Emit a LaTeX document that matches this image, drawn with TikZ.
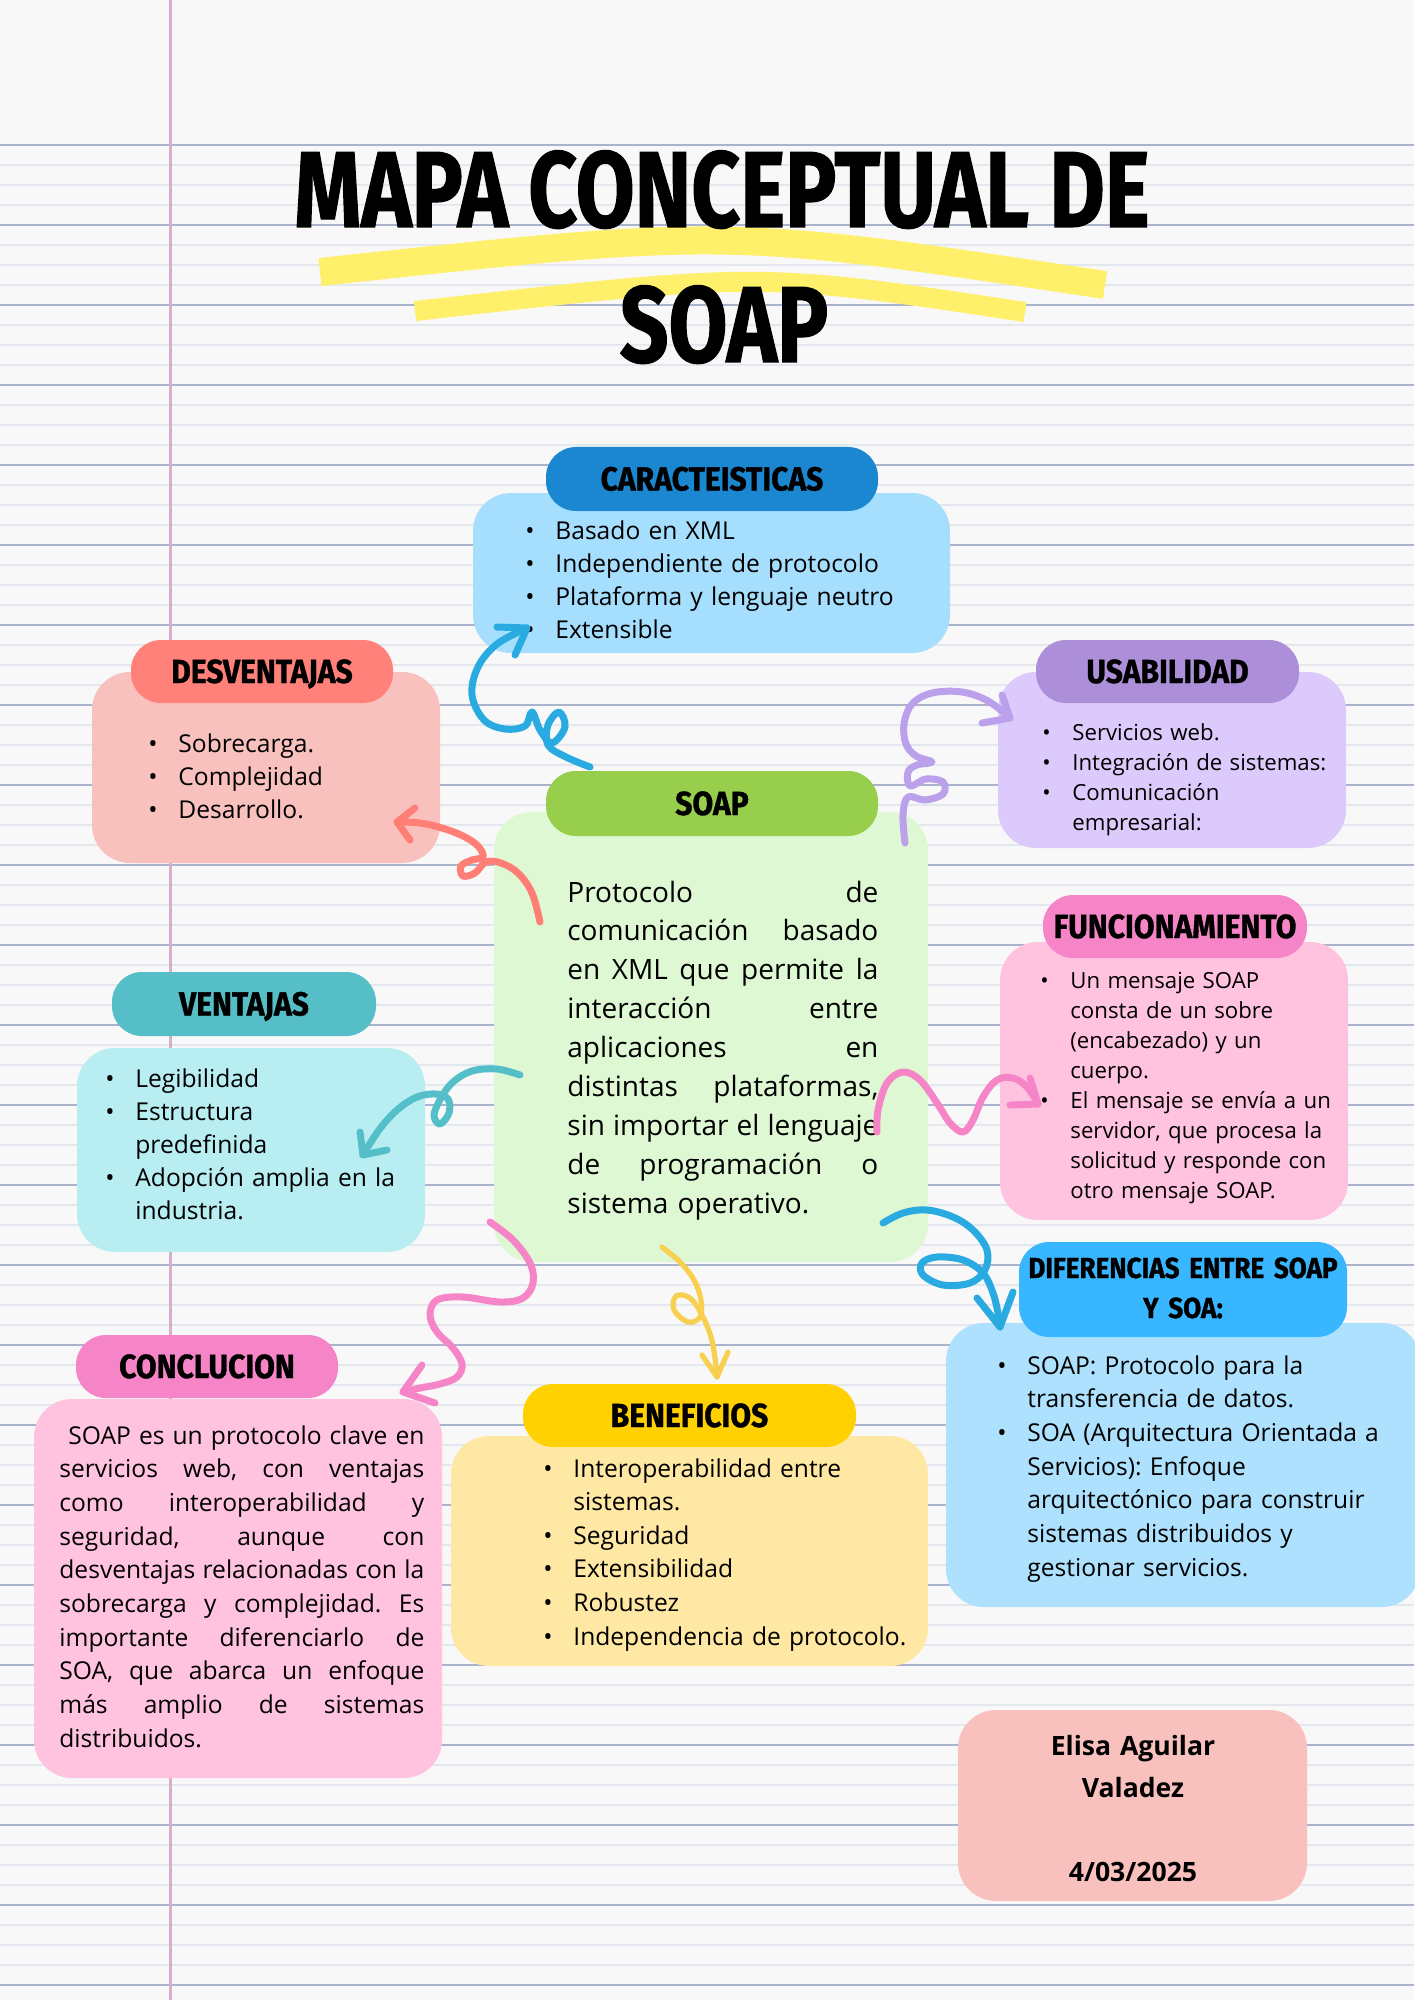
\documentclass[tikz,border=0pt]{standalone}
\usepackage{fontspec}
\setmainfont{Open Sans}
\newfontfamily\headfont[FakeStretch=0.9,FakeBold=1]{Fira Sans}
\newfontfamily\titlefont[FakeStretch=0.79,FakeBold=1]{Fira Sans}
\usetikzlibrary{fit}
\frenchspacing

\definecolor{paper}{HTML}{F9F8F9}
\definecolor{rulethin}{HTML}{E3E8EF}
\definecolor{rulethick}{HTML}{A9B4CC}
\definecolor{marginc}{HTML}{D8ADD0}
\definecolor{hilite}{HTML}{FFF06B}
\definecolor{carheadc}{HTML}{1B87D0}
\definecolor{carbodyc}{HTML}{A6DEFD}
\definecolor{desheadc}{HTML}{FF8179}
\definecolor{desbodyc}{HTML}{F9C1BE}
\definecolor{usaheadc}{HTML}{AC8FD8}
\definecolor{usabodyc}{HTML}{DDCAFC}
\definecolor{soapheadc}{HTML}{97CF4D}
\definecolor{soapbodyc}{HTML}{DFF8D4}
\definecolor{pinkheadc}{HTML}{F685C8}
\definecolor{pinkbodyc}{HTML}{FFC3DF}
\definecolor{venheadc}{HTML}{56BEC7}
\definecolor{venbodyc}{HTML}{B8EEF2}
\definecolor{benheadc}{HTML}{FFD103}
\definecolor{benbodyc}{HTML}{FFE8A4}
\definecolor{difheadc}{HTML}{38B6FF}
\definecolor{difbodyc}{HTML}{AEE1FD}
\definecolor{authorc}{HTML}{F8C1BE}
\definecolor{bluecurl}{HTML}{29ABE2}
\definecolor{salmoncurl}{HTML}{FF7F77}
\definecolor{purplecurl}{HTML}{BBA0EB}
\definecolor{tealcurl}{HTML}{55BFC9}
\definecolor{pinkcurl}{HTML}{F685C8}
\definecolor{yellowcurl}{HTML}{F8CF4F}

\newcommand\bul{\makebox[15pt][l]{\textbullet}}
\newcommand\cnt{\hspace*{15pt}}
\newcommand\jl[1]{\makebox[\hsize][s]{\spaceskip=.26em plus 1fil minus .08em\relax #1}}

\tikzset{
  box/.style={rounded corners=19pt, inner sep=0pt},
  headbox/.style={rounded corners=15pt, inner sep=0pt},
  headtxt/.style={anchor=base, inner sep=0pt,
    font=\headfont\bfseries\fontsize{16.7}{20}\selectfont},
  titletxt/.style={inner sep=0pt, font=\titlefont\bfseries\fontsize{54}{60}\selectfont},
  itemtxt/.style={anchor=base west, align=left, inner sep=0pt, text width=220pt,
    font=\fontsize{12.3}{16.5}\selectfont},
  smalltxt/.style={itemtxt, font=\fontsize{11.1}{15}\selectfont},
  curl/.style={line width=3.5pt, line cap=round, line join=round},
}

\begin{document}
\begin{tikzpicture}[x=0.5pt,y=0.5pt]
\useasboundingbox (0,0) rectangle (1414,-2000);
\fill[paper] (0,0) rectangle (1414,-2000);

% notebook paper
\foreach \y in {145,165,...,1985}
  \draw[rulethin, line width=0.75pt] (0,-\y) -- (1414,-\y);
\foreach \y in {145,225,...,1985}
  \draw[rulethick, line width=1pt] (0,-\y) -- (1414,-\y);
\draw[marginc, line width=1.5pt] (170,0) -- (170,-2000);

% title
\draw[hilite, line width=14pt] (320,-272) .. controls (727,-228) .. (1105,-285);
\draw[hilite, line width=10pt] (415,-311) .. controls (760,-272) .. (1025,-312);
\node[titletxt, anchor=base] (title1) at (722,-227) {MAPA CONCEPTUAL DE};
\node[titletxt, anchor=base] (title2) at (724,-362) {SOAP};

% caracteristicas
\node[box, fill=carbodyc, fit={(473,-493) (950,-653)}] (carbody) {};
\node[headbox, fill=carheadc, fit={(546,-447) (878,-511)}] (carhead) {};
\node[headtxt] (cartitle) at (712,-490.5) {CARACTEISTICAS};
\node[itemtxt] (cartxt) at (525,-539) {\bul Basado en XML\\ \bul Independiente de protocolo\\
  \bul Plataforma y lenguaje neutro\\ \bul Extensible};

% desventajas
\node[box, fill=desbodyc, fit={(92,-672) (440,-863)}] (desbody) {};
\node[headbox, fill=desheadc, fit={(131,-640) (393,-703)}] (deshead) {};
\node[headtxt] (destitle) at (262,-683) {DESVENTAJAS};
\node[itemtxt] (destxt) at (148,-752) {\bul Sobrecarga.\\ \bul Complejidad\\ \bul Desarrollo.};

% usabilidad
\node[box, fill=usabodyc, fit={(998,-672) (1346,-848)}] (usabody) {};
\node[headbox, fill=usaheadc, fit={(1036,-640) (1299,-703)}] (usahead) {};
\node[headtxt] (usatitle) at (1167.5,-683) {USABILIDAD};
\node[smalltxt] (usatxt) at (1042,-740) {\bul Servicios web.\\ \bul Integración de sistemas:\\
  \bul Comunicación\\ \cnt empresarial:};

% soap
\node[box, fill=soapbodyc, fit={(494,-812) (928,-1262)}] (soapbody) {};
\node[headbox, fill=soapheadc, fit={(546,-771) (878,-836)}] (soaphead) {};
\node[headtxt] (soaptitle) at (712,-815) {SOAP};
\node[anchor=base west, inner sep=0pt, text width=155.5pt, align=left,
  font=\fontsize{14}{19.45}\selectfont] (soaptxt) at (567,-902) {%
  \jl{Protocolo de}\\ \jl{comunicación basado}\\ \jl{en XML que permite la}\\
  \jl{interacción entre}\\ \jl{aplicaciones en}\\ \jl{distintas plataformas,}\\
  \jl{sin importar el lenguaje}\\ \jl{de programación o}\\ sistema operativo.};

% funcionamiento
\node[box, fill=pinkbodyc, fit={(1000,-942) (1348,-1220)}] (funbody) {};
\node[headbox, fill=pinkheadc, fit={(1043,-895) (1307,-958)}] (funhead) {};
\node[headtxt] (funtitle) at (1175,-938) {FUNCIONAMIENTO};
\node[smalltxt] (funtxt) at (1040,-988) {\bul Un mensaje SOAP\\ \cnt consta de un sobre\\
  \cnt (encabezado) y un\\ \cnt cuerpo.\\ \bul El mensaje se envía a un\\
  \cnt servidor, que procesa la\\ \cnt solicitud y responde con\\ \cnt otro mensaje SOAP.};

% ventajas
\node[box, fill=venbodyc, fit={(77,-1048) (425,-1252)}] (venbody) {};
\node[headbox, fill=venheadc, fit={(112,-972) (376,-1036)}] (venhead) {};
\node[headtxt] (ventitle) at (244,-1015.5) {VENTAJAS};
\node[itemtxt] (ventxt) at (105,-1087) {\bul Legibilidad\\ \bul Estructura\\ \cnt predefinida\\
  \bul Adopción amplia en la\\ \cnt industria.};

% diferencias
\node[box, fill=difbodyc, fit={(946,-1323) (1420,-1607)}] (difbody) {};
\node[headbox, fill=difheadc, fit={(1019,-1242) (1347,-1337)}] (difhead) {};
\node[headtxt, text width=170pt, align=center,
  font=\headfont\bfseries\fontsize{14.5}{20}\selectfont] (diftitle) at (1183,-1278)
  {DIFERENCIAS ENTRE SOAP\\ Y SOA:};
\node[itemtxt, font=\fontsize{12.3}{16.85}\selectfont] (diftxt) at (997,-1374) {%
  \bul SOAP: Protocolo para la\\ \cnt transferencia de datos.\\
  \bul SOA (Arquitectura Orientada a\\ \cnt Servicios): Enfoque\\
  \cnt arquitectónico para construir\\ \cnt sistemas distribuidos y\\ \cnt gestionar servicios.};

% conclucion
\node[box, fill=pinkbodyc, fit={(34,-1399) (442,-1778)}] (conbody) {};
\node[headbox, fill=pinkheadc, fit={(76,-1335) (338,-1398)}] (conhead) {};
\node[headtxt] (contitle) at (207,-1378) {CONCLUCION};
\node[anchor=base west, inner sep=0pt, text width=182.5pt, align=left,
  font=\fontsize{12.3}{16.85}\selectfont] (context) at (59,-1444) {%
  \jl{\hspace*{4.5pt}SOAP es un protocolo clave en}\\ \jl{servicios web, con ventajas}\\
  \jl{como interoperabilidad y}\\ \jl{seguridad, aunque con}\\
  \jl{desventajas relacionadas con la}\\ \jl{sobrecarga y complejidad. Es}\\
  \jl{importante diferenciarlo de}\\ \jl{SOA, que abarca un enfoque}\\
  \jl{más amplio de sistemas}\\ distribuidos.};

% beneficios
\node[box, fill=benbodyc, fit={(451,-1436) (928,-1666)}] (benbody) {};
\node[headbox, fill=benheadc, fit={(523,-1384) (856,-1447)}] (benhead) {};
\node[headtxt] (bentitle) at (689.5,-1427) {BENEFICIOS};
\node[itemtxt, font=\fontsize{12.3}{16.8}\selectfont] (bentxt) at (543,-1477) {%
  \bul Interoperabilidad entre\\ \cnt sistemas.\\ \bul Seguridad\\ \bul Extensibilidad\\
  \bul Robustez\\ \bul Independencia de protocolo.};

% autor
\node[box, fill=authorc, fit={(958,-1710) (1307,-1901)}] (author) {};
\node[anchor=base, align=center, inner sep=0pt, text width=170pt,
  font=\bfseries\fontsize{13.3}{21}\selectfont] (authortxt) at (1133,-1755)
  {Elisa Aguilar\\ Valadez\\[21pt] 4/03/2025};

% curly arrows
\coordinate (cars) at (590,-767);  \coordinate (cart) at (527,-628);
\draw[curl, bluecurl] plot[smooth, tension=0.6] coordinates {(cars) (566,-757) (548,-745)
  (548,-725) (559,-712) (565,-727) (552,-743) (540,-730) (532,-712) (525,-726) (505,-729)
  (484,-720) (472,-695) (478,-667) (497,-644) (cart)};
\draw[curl, bluecurl] (497,-627) -- (cart) -- (515,-655);

\coordinate (dess) at (540,-922);  \coordinate (dest) at (397,-822);
\draw[curl, salmoncurl] plot[smooth, tension=0.6] coordinates {(dess) (532,-893) (518,-873)
  (501,-863) (486,-862) (475,-873) (463,-876) (461,-866) (472,-860) (483,-857) (478,-846)
  (463,-836) (442,-828) (420,-823) (dest)};
\draw[curl, salmoncurl] (415,-808) -- (dest) -- (410,-840);

\coordinate (usas) at (905,-843);  \coordinate (usat) at (1010,-718);
\draw[curl, purplecurl] plot[smooth, tension=0.6] coordinates {(usas) (903,-815) (908,-797)
  (925,-800) (943,-794) (943,-782) (926,-779) (910,-786) (908,-772) (917,-765) (932,-762)
  (916,-756) (906,-744) (904,-724) (912,-704) (932,-693) (962,-692) (988,-701) (usat)};
\draw[curl, purplecurl] (1002,-695) -- (usat) -- (982,-723);

\coordinate (vens) at (520,-1075);  \coordinate (vent) at (363,-1155);
\draw[curl, tealcurl] plot[smooth, tension=0.6] coordinates {(vens) (497,-1069) (472,-1071)
  (453,-1082) (441,-1098) (434,-1115) (440,-1124) (449,-1113) (448,-1099) (436,-1094)
  (417,-1097) (397,-1110) (379,-1130) (vent)};
\draw[curl, tealcurl] (360,-1132) -- (vent) -- (387,-1150);

\coordinate (funs) at (877,-1132);  \coordinate (funt) at (1038,-1104);
\draw[curl, pinkcurl] plot[smooth, tension=0.6] coordinates {(funs) (878,-1110) (887,-1083)
  (903,-1072) (920,-1080) (937,-1103) (950,-1123) (963,-1132) (973,-1120) (983,-1097)
  (997,-1080) (1013,-1078) (1027,-1087) (funt)};
\draw[curl, pinkcurl] (1030,-1078) -- (funt) -- (1010,-1105);

\coordinate (difs) at (883,-1223);  \coordinate (dift) at (1000,-1327);
\draw[curl, bluecurl] plot[smooth, tension=0.6] coordinates {(difs) (903,-1213) (927,-1210)
  (953,-1217) (973,-1230) (987,-1250) (985,-1270) (970,-1283) (943,-1285) (923,-1275)
  (922,-1263) (937,-1257) (963,-1260) (983,-1273) (993,-1293) (998,-1313) (dift)};
\draw[curl, bluecurl] (977,-1298) -- (dift) -- (1013,-1292);

\coordinate (cons) at (490,-1222);  \coordinate (cont) at (403,-1392);
\draw[curl, pinkcurl] plot[smooth, tension=0.6] coordinates {(cons) (513,-1240) (530,-1263)
  (533,-1283) (523,-1298) (500,-1302) (463,-1297) (437,-1300) (430,-1315) (437,-1332)
  (453,-1348) (462,-1364) (457,-1377) (440,-1384) (420,-1388) (cont)};
\draw[curl, pinkcurl] (422,-1365) -- (cont) -- (435,-1403);

\coordinate (bens) at (662,-1247);  \coordinate (bent) at (717,-1377);
\draw[curl, yellowcurl, line width=2.6pt] plot[smooth, tension=0.6] coordinates {(bens)
  (680,-1262) (694,-1280) (701,-1300) (700,-1317) (688,-1322) (674,-1310) (676,-1296)
  (690,-1298) (702,-1315) (711,-1337) (715,-1358) (bent)};
\draw[curl, yellowcurl, line width=2.6pt] (702,-1355) -- (bent) -- (728,-1352);
\end{tikzpicture}
\end{document}
